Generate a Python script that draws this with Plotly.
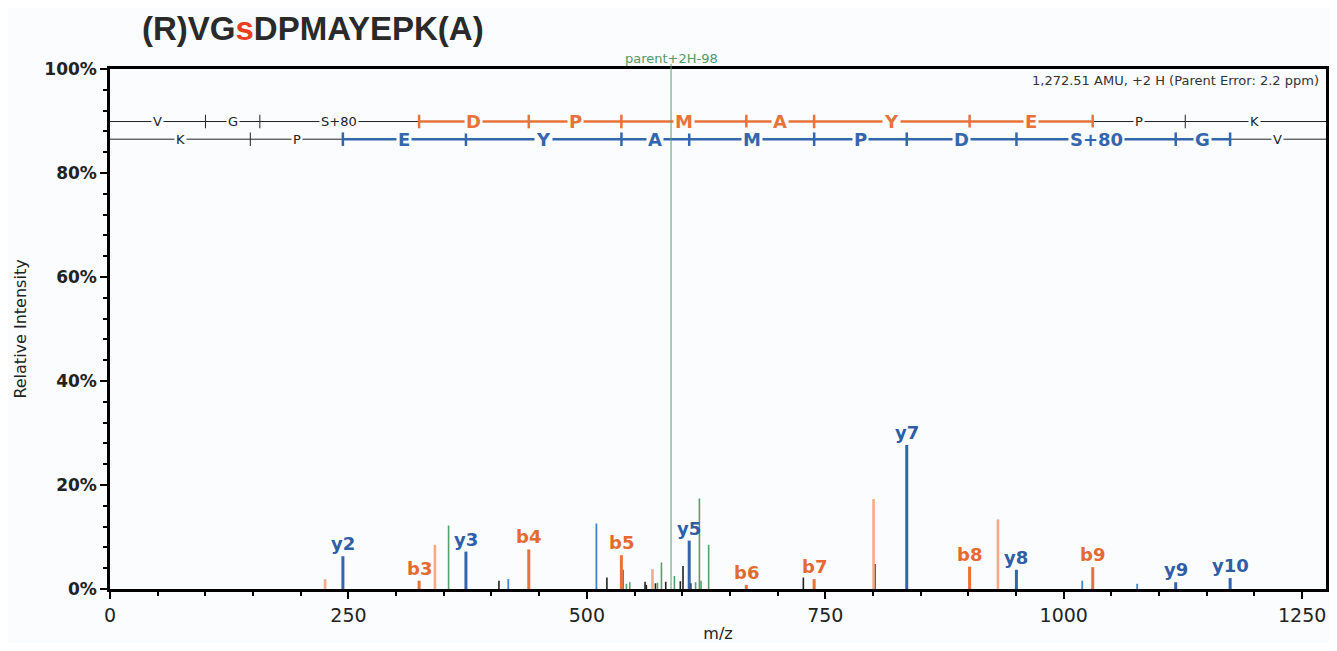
import plotly.graph_objects as go

# ---- data (m/z, relative intensity %) ----
b_labels = ["b3", "b4", "b5", "b6", "b7", "b8", "b9"]
b_mz = [324.1, 439.1, 536.2, 667.2, 738.3, 901.3, 1030.4]
b_int = [1.6, 7.6, 6.5, 0.8, 1.9, 4.3, 4.2]

y_labels = ["y2", "y3", "y5", "y7", "y8", "y9", "y10"]
y_mz = [244.2, 373.2, 607.3, 835.4, 950.4, 1117.4, 1174.5]
y_int = [6.3, 7.2, 9.3, 27.7, 3.7, 1.3, 2.1]

orange_mz = [225.5, 340.7, 568.8, 800.6, 931.0]
orange_int = [1.9, 8.5, 3.8, 17.3, 13.4]

blue_mz = [417.6, 510.0, 538.0, 1019.4, 1077.0]
blue_int = [1.9, 12.6, 3.7, 1.6, 1.0]

green_mz = [355.0, 541.5, 545.0, 574.0, 578.2, 591.8, 614.0, 618.0, 619.7, 627.7]
green_int = [12.2, 1.0, 1.3, 1.2, 5.1, 2.5, 1.3, 17.4, 1.6, 8.5]

black_mz = [407.8, 521.0, 561.0, 562.4, 571.9, 582.7, 598.0, 600.8, 609.0, 727.0, 802.0]
black_int = [1.6, 2.2, 1.4, 0.8, 1.1, 1.4, 1.5, 4.4, 1.1, 2.2, 4.8]

parent_mz = 588.26
mh_mz = 1273.5

# fragment ladders
b_res = ["V", "G", "S+80", "D", "P", "M", "A", "Y", "E", "P", "K"]
b_ladder = [100.08, 157.10, 324.10, 439.13, 536.18, 667.22, 738.26, 901.32, 1030.37, 1127.42]
b_seen = [False, False, True, True, True, True, True, True, True, False]

y_res = ["K", "P", "E", "Y", "A", "M", "P", "D", "S+80", "G", "V"]
y_ladder = [147.11, 244.17, 373.21, 536.27, 607.31, 738.35, 835.40, 950.43, 1117.43, 1174.45]
y_seen = [False, True, True, True, True, True, True, True, True, True]

x_ticks = [0, 250, 500, 750, 1000, 1250]
y_ticks = [0, 20, 40, 60, 80, 100]
y_ticktext = ["0%", "20%", "40%", "60%", "80%", "100%"]

ORANGE = "#e8733a"
ORANGE_LIGHT = "#f8aa84"
BLUE = "#3466ad"
BLUE_LIGHT = "#3b86d6"
GREEN = "#56a06c"
BLACK = "#222222"
BG = "#fbfcfe"
XMAX = 1275

# page body adds an 8px margin around the figure
W, H, PAD = 1337 - 16, 651 - 16, 8
L, T = 110 - PAD, 69 - PAD
R = 1337 - 1326 - PAD
B = 651 - 589 - PAD


def sticks(mz, inten):
    xs, ys = [], []
    for m, h in zip(mz, inten):
        xs += [m, m, None]
        ys += [0, h, None]
    return xs, ys


fig = go.Figure()

# peaks
for mz, inten, col, w in [
    (black_mz, black_int, BLACK, 1.6),
    (green_mz, green_int, GREEN, 1.6),
    (blue_mz, blue_int, BLUE_LIGHT, 1.8),
    (orange_mz, orange_int, ORANGE_LIGHT, 2.6),
    (b_mz, b_int, ORANGE, 3),
    (y_mz, y_int, BLUE, 3),
]:
    xs, ys = sticks(mz, inten)
    fig.add_trace(go.Scatter(x=xs, y=ys, mode="lines", line=dict(color=col, width=w),
                             hoverinfo="skip", showlegend=False))

# parent line
fig.add_shape(type="line", xref="x", yref="paper", x0=parent_mz, x1=parent_mz, y0=0, y1=1.01,
              line=dict(color=GREEN, width=1))
fig.add_annotation(x=parent_mz, y=1.0, xref="x", yref="paper", yanchor="bottom", yshift=1,
                   text="parent+2H-98", showarrow=False,
                   font=dict(family="DejaVu Sans", size=13, color="#4f9a68"))

# ion labels
for lab, mz, h in zip(b_labels, b_mz, b_int):
    fig.add_annotation(x=mz, y=h, text=lab, showarrow=False, yanchor="bottom", yshift=0,
                       font=dict(family="DejaVu Sans", size=18, color="#e46a32", weight="bold"))
for lab, mz, h in zip(y_labels, y_mz, y_int):
    fig.add_annotation(x=mz, y=h, text=lab, showarrow=False, yanchor="bottom", yshift=0,
                       font=dict(family="DejaVu Sans", size=18, color="#2f5ea6", weight="bold"))


# ladders at the top
def ladder(res, cuts, seen, yrow, col):
    edges = [0] + cuts + [XMAX]
    ok = [False] + seen + [False]
    for i, r in enumerate(res):
        lit = ok[i] and ok[i + 1]
        c = col if lit else BLACK
        fig.add_trace(go.Scatter(x=[edges[i], edges[i + 1]], y=[yrow, yrow], mode="lines",
                                 line=dict(color=c, width=2.5 if lit else 1),
                                 hoverinfo="skip", showlegend=False))
        mid = (edges[i] + min(edges[i + 1], mh_mz)) / 2
        if lit:
            f = dict(family="DejaVu Sans", size=18, color=col, weight="bold")
        else:
            f = dict(family="DejaVu Sans", size=13, color=BLACK)
        fig.add_annotation(x=mid, y=yrow, text=r, showarrow=False, bgcolor=BG, borderpad=1,
                           font=f)
    for m, s in zip(cuts, seen):
        fig.add_trace(go.Scatter(x=[m, m], y=[yrow - 1.3, yrow + 1.3], mode="lines",
                                 line=dict(color=col if s else BLACK, width=2.5 if s else 1),
                                 hoverinfo="skip", showlegend=False))


ladder(b_res, b_ladder, b_seen, 89.9, ORANGE)
ladder(y_res, y_ladder, y_seen, 86.5, BLUE)

fig.add_annotation(x=1, y=1, xref="paper", yref="paper", xanchor="right", yanchor="top",
                   xshift=-5, yshift=-2, showarrow=False,
                   text="1,272.51 AMU, +2 H (Parent Error: 2.2 ppm)",
                   font=dict(family="DejaVu Sans", size=13, color="#333333"))

# title with the phospho-serine in red
fig.add_annotation(x=(140 - 110) / 1216, y=(589 - 28) / 520, xref="paper", yref="paper",
                   xanchor="left", yanchor="middle", showarrow=False,
                   text="<b>(R)VG<span style='color:#e8401c'>s</span>DPMAYEPK(A)</b>",
                   font=dict(family="Liberation Sans", size=33, color="#2a2a2a"))

fig.update_xaxes(range=[0, XMAX], tickvals=x_ticks, automargin=False,
                 showline=True, linecolor="black", linewidth=2.5, mirror=True,
                 ticks="outside", ticklen=7, tickwidth=2, tickcolor="black",
                 minor=dict(dtick=50, ticks="outside", ticklen=4, tickwidth=1.5, tickcolor="black"),
                 showgrid=False, zeroline=False,
                 tickfont=dict(family="DejaVu Sans", size=19, color="#222222"),
                 title=dict(text="m/z", standoff=8,
                            font=dict(family="DejaVu Sans", size=16, color="#222222")))
fig.update_yaxes(range=[0, 100], tickvals=y_ticks, ticktext=y_ticktext, automargin=False,
                 showline=True, linecolor="black", linewidth=2.5, mirror=True,
                 ticks="outside", ticklen=7, tickwidth=2, tickcolor="black",
                 minor=dict(dtick=4, ticks="outside", ticklen=4, tickwidth=1.5, tickcolor="black"),
                 showgrid=False, zeroline=False,
                 tickfont=dict(family="DejaVu Sans", size=17, color="#222222", weight="bold"),
                 title=dict(text="Relative Intensity", standoff=14,
                            font=dict(family="DejaVu Sans", size=16, color="#222222")))

fig.update_layout(width=W, height=H, paper_bgcolor=BG, plot_bgcolor=BG,
                  margin=dict(l=L, r=R, t=T, b=B), hovermode=False, showlegend=False)

fig.write_html("out.html")
